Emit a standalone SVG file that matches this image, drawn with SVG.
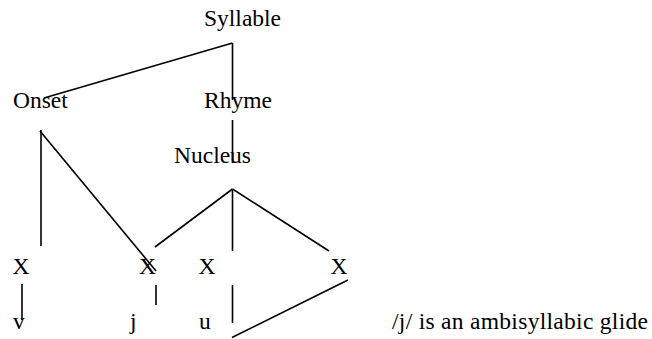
<svg xmlns="http://www.w3.org/2000/svg" width="652" height="339" viewBox="0 0 652 339">
<style>
text{font-family:"Liberation Serif","Times New Roman",serif;font-size:23.5px;fill:#000}
.c line{stroke:#000;stroke-width:1.6;fill:none}
</style>
<rect width="652" height="339" fill="#fff"/>
<g id="connectors" class="c">
<line x1="232.5" y1="43" x2="44" y2="98"/>
<line x1="232.5" y1="43" x2="232.5" y2="100"/>
<line x1="232.5" y1="120" x2="232.5" y2="163"/>
<line x1="41" y1="130" x2="41" y2="246"/>
<line x1="40" y1="131" x2="156" y2="271"/>
<line x1="232.5" y1="189" x2="155" y2="247"/>
<line x1="232.5" y1="189" x2="232.5" y2="251"/>
<line x1="232.5" y1="189" x2="329" y2="251"/>
<line x1="22" y1="284" x2="22" y2="320"/>
<line x1="156" y1="285" x2="156" y2="305"/>
<line x1="232.5" y1="285" x2="232.5" y2="323"/>
<line x1="232" y1="337.5" x2="348" y2="280"/>
</g>
<g id="syllable"><text x="204" y="26">Syllable</text></g>
<g id="onset"><text x="13" y="108">Onset</text></g>
<g id="rhyme"><text x="204" y="108">Rhyme</text></g>
<g id="nucleus"><text x="174" y="163">Nucleus</text></g>
<g id="x1"><text x="12.5" y="274">X</text></g>
<g id="x2"><text x="139" y="274">X</text></g>
<g id="x3"><text x="198.5" y="274">X</text></g>
<g id="x4"><text x="330.5" y="274">X</text></g>
<g id="v"><text x="13" y="329">v</text></g>
<g id="j"><text x="130" y="329">j</text></g>
<g id="u"><text x="199" y="329">u</text></g>
<g id="note"><text x="392" y="329" textLength="256">/j/ is an ambisyllabic glide</text></g>
</svg>
